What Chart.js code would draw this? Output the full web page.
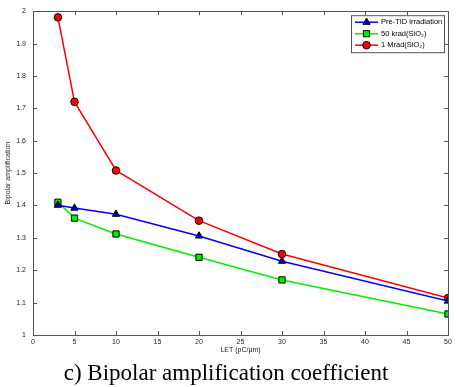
<!DOCTYPE html>
<html>
<head>
<meta charset="utf-8">
<script src="https://cdn.jsdelivr.net/npm/chart.js@4/dist/chart.umd.min.js"></script>
<style>
  body { margin: 0; background: #fff; }
  canvas { display: block; }
</style>
</head>
<body>
<canvas id="letchart" width="456" height="387"></canvas>
<script>
// values
const letValues = [3, 5, 10, 20, 30, 50];
const preTid = [1.401, 1.392, 1.373, 1.306, 1.228, 1.105];
const krad50 = [1.410, 1.361, 1.312, 1.240, 1.170, 1.065];
const mrad1 = [1.981, 1.720, 1.508, 1.353, 1.250, 1.114];
const xTicks = [0, 5, 10, 15, 20, 25, 30, 35, 40, 45, 50];
const yTicks = [1, 1.1, 1.2, 1.3, 1.4, 1.5, 1.6, 1.7, 1.8, 1.9, 2];

function toPoints(ys) {
    return letValues.map(function (x, i) { return { x: x, y: ys[i] }; });
}

const seriesStyle = [
    { label: 'Pre-TID irradiation', data: preTid, color: '#0000ff', fill: '#0000cc', style: 'triangle', r: 4.2 },
    { label: '50 krad(SiO\u2082)', data: krad50, color: '#00ee00', fill: '#00ee00', style: 'rect', r: 4.4 },
    { label: '1 Mrad(SiO\u2082)', data: mrad1, color: '#ff0000', fill: '#ff0000', style: 'circle', r: 3.8 }
];

// box around the plot with inward ticks, matlab style
const boxTicks = {
    id: 'boxTicks',
    afterDraw(chart) {
        const ctx = chart.ctx;
        const a = chart.chartArea;
        const xs = chart.scales.x, ys = chart.scales.y;
        ctx.save();
        ctx.strokeStyle = '#555';
        ctx.lineWidth = 1;
        ctx.strokeRect(Math.round(a.left) + 0.5, Math.round(a.top) + 0.5,
            Math.round(a.right - a.left), Math.round(a.bottom - a.top));
        ctx.beginPath();
        xs.ticks.forEach(function (t) {
            const px = Math.round(xs.getPixelForValue(t.value)) + 0.5;
            ctx.moveTo(px, a.bottom); ctx.lineTo(px, a.bottom - 4);
            ctx.moveTo(px, a.top); ctx.lineTo(px, a.top + 4);
        });
        ys.ticks.forEach(function (t) {
            const py = Math.round(ys.getPixelForValue(t.value)) + 0.5;
            ctx.moveTo(a.left, py); ctx.lineTo(a.left + 4, py);
            ctx.moveTo(a.right, py); ctx.lineTo(a.right - 4, py);
        });
        ctx.stroke();
        ctx.restore();
    }
};

// legend box in the top right corner
const boxLegend = {
    id: 'boxLegend',
    afterDraw(chart) {
        const ctx = chart.ctx;
        const a = chart.chartArea;
        const bx = a.right - 97, by = a.top + 4, bw = 93, bh = 37;
        ctx.save();
        ctx.fillStyle = '#fff';
        ctx.fillRect(bx, by, bw, bh);
        ctx.strokeStyle = '#555';
        ctx.lineWidth = 1;
        ctx.strokeRect(bx + 0.5, by + 0.5, bw, bh);
        ctx.font = '7.5px "Liberation Sans", Arial, sans-serif';
        ctx.textBaseline = 'middle';
        seriesStyle.forEach(function (s, i) {
            const y = by + 7 + i * 11.5;
            ctx.strokeStyle = s.color;
            ctx.lineWidth = 1.5;
            ctx.beginPath();
            ctx.moveTo(bx + 4, y); ctx.lineTo(bx + 27, y);
            ctx.stroke();
            ctx.fillStyle = s.fill;
            ctx.strokeStyle = '#000';
            ctx.lineWidth = 1;
            Chart.helpers.drawPoint(ctx, { pointStyle: s.style, radius: s.r, rotation: 0, borderWidth: 1 }, bx + 15.5, y);
            ctx.fillStyle = '#000';
            ctx.fillText(s.label, bx + 30, y);
        });
        ctx.restore();
    }
};

const tickFont = { family: '"Liberation Sans", Arial, sans-serif', size: 7 };

new Chart(document.getElementById('letchart'), {
    type: 'line',
    data: {
        datasets: seriesStyle.map(function (s) {
            return {
                label: s.label,
                data: toPoints(s.data),
                borderColor: s.color,
                borderWidth: 1.5,
                backgroundColor: s.fill,
                pointStyle: s.style,
                pointRadius: s.r,
                pointBorderColor: '#000',
                pointBorderWidth: 1,
                tension: 0
            };
        })
    },
    options: {
        responsive: false,
        animation: false,
        layout: { padding: { left: 4, right: 8, top: 11, bottom: 0 } },
        plugins: {
            legend: { display: false },
            tooltip: { enabled: false },
            title: {
                display: true,
                position: 'bottom',
                text: 'c) Bipolar amplification coefficient',
                color: '#000',
                font: { family: '"Liberation Serif", "Times New Roman", serif', size: 23, weight: 'normal', lineHeight: 1.1 },
                padding: { top: 0, bottom: 0 }
            }
        },
        scales: {
            x: {
                type: 'linear',
                min: 0,
                max: 50,
                afterBuildTicks: function (scale) { scale.ticks = xTicks.map(function (v) { return { value: v }; }); },
                afterFit: function (scale) { scale.height = 26.7; },
                grid: { display: false, drawTicks: false },
                border: { display: false },
                ticks: { color: '#222', font: tickFont, padding: 3, maxRotation: 0,
                    callback: function (v) { return String(v); } },
                title: { display: true, text: 'LET (pC/\u03bcm)', color: '#222', font: tickFont, padding: { top: 0, bottom: 7.5 } }
            },
            y: {
                type: 'linear',
                min: 1,
                max: 2,
                afterBuildTicks: function (scale) { scale.ticks = yTicks.map(function (v) { return { value: v }; }); },
                afterFit: function (scale) { scale.width = 29; },
                grid: { display: false, drawTicks: false },
                border: { display: false },
                ticks: { color: '#222', font: tickFont, padding: 7,
                    callback: function (v) { return String(Math.round(v * 10) / 10); } },
                title: { display: true, text: 'Bipolar amplification', color: '#222', font: tickFont, padding: 0 }
            }
        }
    },
    plugins: [boxTicks, boxLegend]
});
</script>
</body>
</html>
